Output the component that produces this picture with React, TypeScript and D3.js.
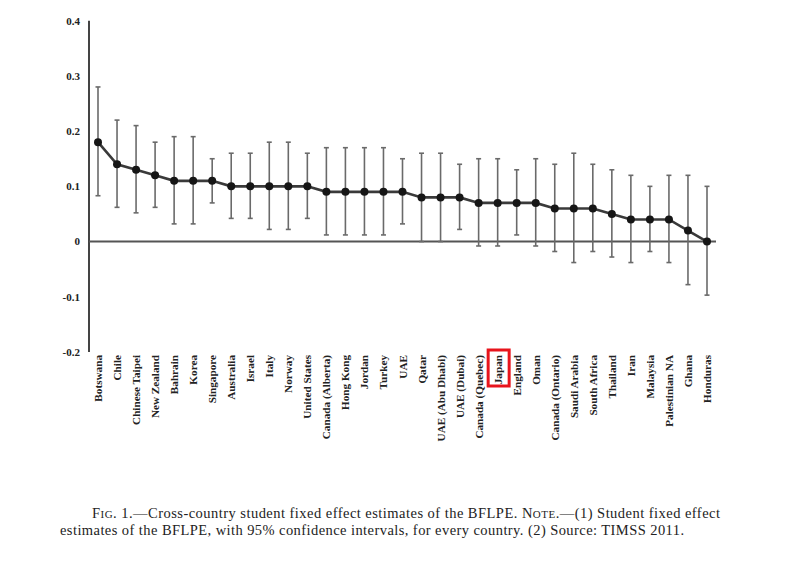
import React from "react";
import * as d3 from "d3";

const countries = [
  "Botswana", "Chile", "Chinese Taipei", "New Zealand", "Bahrain", "Korea", "Singapore",
  "Australia", "Israel", "Italy", "Norway", "United States", "Canada (Alberta)", "Hong Kong",
  "Jordan", "Turkey", "UAE", "Qatar", "UAE (Abu Dhabi)", "UAE (Dubai)", "Canada (Quebec)",
  "Japan", "England", "Oman", "Canada (Ontario)", "Saudi Arabia", "South Africa", "Thailand",
  "Iran", "Malaysia", "Palestinian NA", "Ghana", "Honduras",
];
const estimates = [
  0.18, 0.14, 0.13, 0.12, 0.11, 0.11, 0.11, 0.10, 0.10, 0.10, 0.10, 0.10, 0.09, 0.09, 0.09,
  0.09, 0.09, 0.08, 0.08, 0.08, 0.07, 0.07, 0.07, 0.07, 0.06, 0.06, 0.06, 0.05, 0.04, 0.04,
  0.04, 0.02, 0.0,
];
const upper = [
  0.28, 0.22, 0.21, 0.18, 0.19, 0.19, 0.15, 0.16, 0.16, 0.18, 0.18, 0.16, 0.17, 0.17, 0.17,
  0.17, 0.15, 0.16, 0.16, 0.14, 0.15, 0.15, 0.13, 0.15, 0.14, 0.16, 0.14, 0.13, 0.12, 0.10,
  0.12, 0.12, 0.10,
];
const lower = [
  0.083, 0.062, 0.052, 0.062, 0.032, 0.032, 0.07, 0.042, 0.042, 0.022, 0.022, 0.042, 0.012,
  0.012, 0.012, 0.012, 0.032, 0.0, 0.0, 0.022, -0.008, -0.008, 0.012, -0.008, -0.018, -0.038,
  -0.018, -0.028, -0.038, -0.018, -0.038, -0.078, -0.097,
];
const yTicks = [0.4, 0.3, 0.2, 0.1, 0, -0.1, -0.2];
const yTickLabels = ["0.4", "0.3", "0.2", "0.1", "0", "-0.1", "-0.2"];
const highlighted = "Japan";

export default function App() {
  const W = 800, H = 563;
  const x = d3.scalePoint<string>().domain(countries).range([98, 707]);
  const y = d3.scaleLinear().domain([-0.2, 0.4]).range([352, 20.7]);
  const axisX = 89;
  const data = countries.map((c, i) => ({ c, v: estimates[i], hi: upper[i], lo: lower[i] }));
  const line = d3.line<typeof data[number]>().x((d) => x(d.c)!).y((d) => y(d.v));
  const serif = "'Liberation Serif', 'DejaVu Serif', serif";
  const capW = 2.5;
  return (
    <svg width={W} height={H} style={{ position: "absolute", left: 0, top: 0, background: "#fff" }}>
      {/* y axis */}
      <line x1={axisX} x2={axisX} y1={y(0.4)} y2={y(-0.2)} stroke="#444" strokeWidth={2} />
      {/* zero line */}
      <line x1={axisX} x2={716} y1={y(0)} y2={y(0)} stroke="#555" strokeWidth={2} />
      {yTicks.map((t, i) => (
        <text key={t} x={80} y={y(t)} dy="0.35em" textAnchor="end" fontFamily={serif}
          fontWeight="bold" fontSize={11} fill="#222">{yTickLabels[i]}</text>
      ))}
      {/* error bars */}
      {data.map((d) => (
        <g key={"e" + d.c} stroke="#6a6a6a" strokeWidth={1.6}>
          <line x1={x(d.c)} x2={x(d.c)} y1={y(d.hi)} y2={y(d.lo)} />
          <line x1={x(d.c)! - capW} x2={x(d.c)! + capW} y1={y(d.hi)} y2={y(d.hi)} />
          <line x1={x(d.c)! - capW} x2={x(d.c)! + capW} y1={y(d.lo)} y2={y(d.lo)} />
        </g>
      ))}
      <path d={line(data)!} fill="none" stroke="#3a3a3a" strokeWidth={2.6} />
      {data.map((d) => (
        <circle key={"p" + d.c} cx={x(d.c)} cy={y(d.v)} r={4} fill="#161616" />
      ))}
      {/* country labels */}
      {data.map((d) => (
        <text key={"l" + d.c} transform={`translate(${x(d.c)! + 4},355) rotate(-90)`}
          textAnchor="end" fontFamily={serif} fontWeight="bold" fontSize={11.2} fill="#222">
          {d.c}
        </text>
      ))}
      {/* highlight box */}
      {data.filter((d) => d.c === highlighted).map((d) => (
        <rect key="hl" x={x(d.c)! - 9.5} y={350} width={21} height={36} fill="none"
          stroke="#e8141c" strokeWidth={3} />
      ))}
      {/* caption */}
      <text x={92} y={518} fontFamily={serif} fontSize={14.5} fill="#222" textLength={628} lengthAdjust="spacing">
        F<tspan fontSize={11}>IG</tspan>. 1.—Cross-country student fixed effect estimates of the BFLPE. N<tspan fontSize={11}>OTE</tspan>.—(1) Student fixed effect
      </text>
      <text x={60} y={535} fontFamily={serif} fontSize={14.5} fill="#222" textLength={624} lengthAdjust="spacing">
        estimates of the BFLPE, with 95% confidence intervals, for every country. (2) Source: TIMSS 2011.
      </text>
    </svg>
  );
}
